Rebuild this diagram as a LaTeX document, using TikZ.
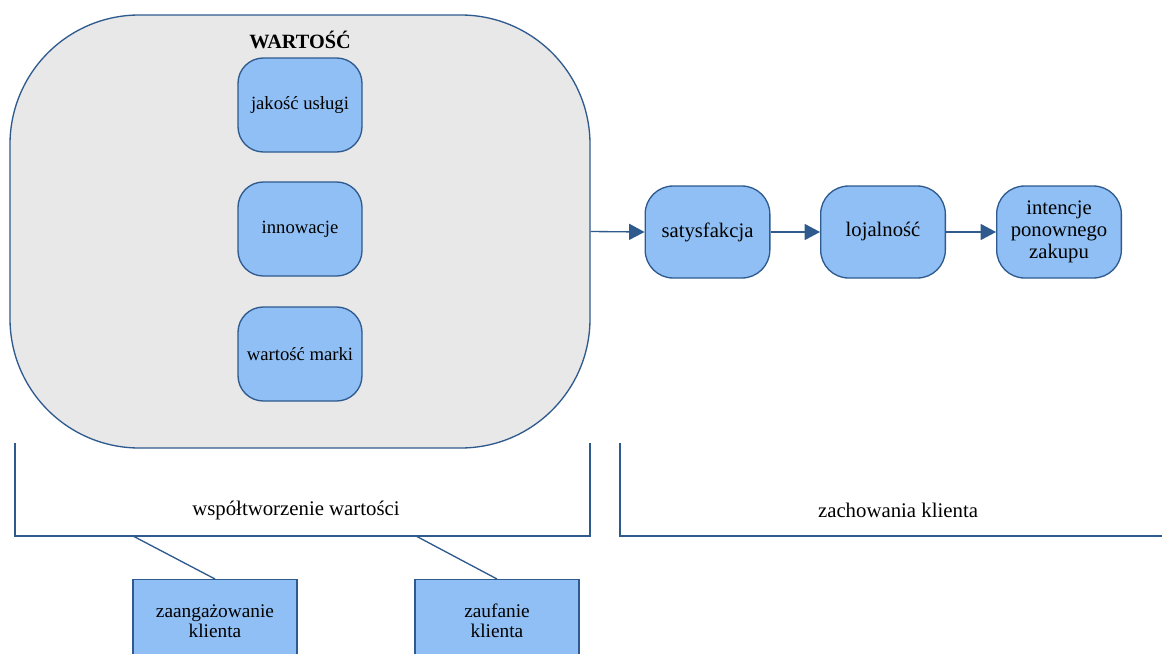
\documentclass[tikz,border=0pt]{standalone}
\usepackage{fontspec}
\setmainfont{Liberation Serif}
\usetikzlibrary{arrows.meta}
\definecolor{edge}{HTML}{2F5A8E}
\definecolor{boxfill}{HTML}{8FBFF4}
\definecolor{bigfill}{HTML}{E8E8E8}
\tikzset{
  inbox/.style={draw=edge, fill=boxfill, line width=1pt, rounded corners=19pt,
    minimum width=93pt, minimum height=70.5pt, inner sep=0pt, align=center,
    font=\fontsize{14}{16.5}\selectfont},
  chainbox/.style={draw=edge, fill=boxfill, line width=1pt, rounded corners=21pt,
    minimum width=93.5pt, minimum height=69pt, inner sep=0pt, align=center,
    font=\fontsize{15.5}{16.5}\selectfont},
  sqbox/.style={draw=edge, fill=boxfill, line width=1pt,
    minimum width=123pt, minimum height=62pt, inner sep=0pt, align=center,
    font=\fontsize{14.5}{15}\selectfont},
  conn/.style={draw=edge, line width=1pt},
  arr/.style={conn, -{Triangle[length=11.5pt,width=12pt]}},
  lbl/.style={font=\fontsize{15.6}{18}\selectfont, inner sep=0pt}
}
\begin{document}
\begin{tikzpicture}[x=0.75pt,y=-0.75pt]
\useasboundingbox (0,0) rectangle (1162,653);
\clip (0,0) rectangle (1162,653);
% big value container
\node[draw=edge, fill=bigfill, line width=1pt, rounded corners=97pt,
  minimum width=435pt, minimum height=324.75pt, inner sep=0pt] (big) at (300,231.5) {};
\node[font=\bfseries\fontsize{15.2}{18}\selectfont, inner sep=0pt] (title) at (300,40) {WARTOŚĆ};
\node[inbox] (jak) at (300,105) {jakość usługi};
\node[inbox] (inn) at (300,229) {innowacje};
\node[inbox] (wm) at (300,354) {wartość marki};
% chain
\node[chainbox] (sat) at (707.5,232) {satysfakcja};
\node[chainbox] (loj) at (883,232) {lojalność};
\node[chainbox] (int) at (1059,232) {intencje\\ponownego\\zakupu};
\draw[arr] (big.east) -- (sat.west);
\draw[arr] (sat) -- (loj);
\draw[arr] (loj) -- (int);
% brackets
\coordinate (b1a) at (15,443);
\coordinate (b1b) at (15,536);
\coordinate (b1c) at (590,536);
\coordinate (b1d) at (590,443);
\draw[conn] (b1a) -- (b1b) -- (b1c) -- (b1d);
\node[lbl] (wsp) at (296,510) {współtworzenie wartości};
\coordinate (b2a) at (620,443);
\coordinate (b2b) at (620,536);
\coordinate (b2c) at (1170,536);
\draw[conn] (b2a) -- (b2b) -- (b2c);
\node[lbl] (zach) at (898,510) {zachowania klienta};
% bottom boxes
\node[sqbox, anchor=north] (zaa) at (215,579) {zaangażowanie\\klienta};
\node[sqbox, anchor=north] (zau) at (497,579) {zaufanie\\klienta};
\coordinate (l1) at (133,536);
\coordinate (l2) at (416,536);
\draw[conn] (l1) -- (zaa.north);
\draw[conn] (l2) -- (zau.north);
\end{tikzpicture}
\end{document}
